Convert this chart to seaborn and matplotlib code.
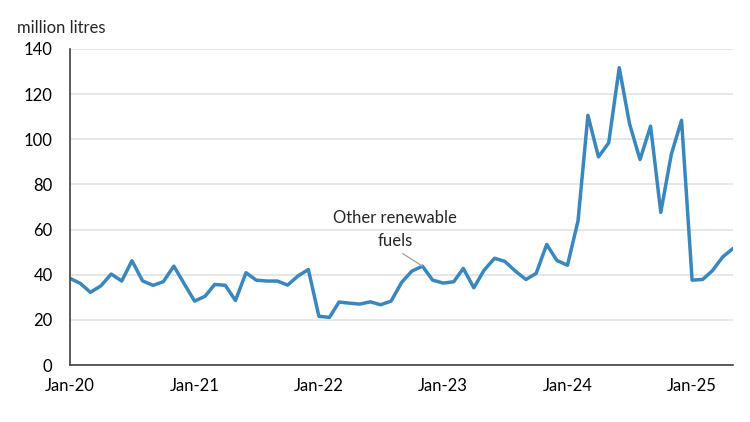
import pandas as pd
import numpy as np
import matplotlib
matplotlib.use('Agg')
import matplotlib.pyplot as plt
import matplotlib.dates as mdates
import seaborn as sns

# données mensuelles (millions de litres), jan-2020 -> mai-2025
valeurs = [38.4, 36.1, 32.2, 35.1, 40.3, 37.2, 46.2, 37.3, 35.3, 36.9, 43.8, 36.1,
           28.3, 30.5, 35.7, 35.3, 28.6, 40.9, 37.6, 37.2, 37.2, 35.4, 39.5, 42.3,
           21.6, 21.1, 27.9, 27.4, 27.0, 28.0, 26.7, 28.3, 36.6, 41.6, 43.8, 37.6,
           36.3, 36.9, 42.8, 34.2, 42.0, 47.3, 45.9, 41.6, 37.9, 40.6, 53.4, 46.3,
           44.2, 63.9, 110.6, 92.2, 98.4, 131.7, 107.0, 91.0, 105.8, 67.6, 93.4, 108.4,
           37.6, 37.9, 41.7, 47.9, 51.6]
debut = '2020-01-01'
ticks_y = [0, 20, 40, 60, 80, 100, 120, 140]
ticks_x = ['2020-01-01', '2021-01-01', '2022-01-01', '2023-01-01', '2024-01-01', '2025-01-01']
etiquette = "Other renewable\nfuels"
unite = "million litres"

mois = pd.date_range(debut, periods=len(valeurs), freq='MS')
df = pd.DataFrame({'mois': mois, 'valeur': valeurs})

sns.set_style('white')
plt.rcParams['font.family'] = ['Lato', 'DejaVu Sans']

fig = plt.figure(figsize=(7.5, 4.22), dpi=100)
ax = fig.add_axes([0.0933, 0.135, 0.884, 0.749])

sns.lineplot(data=df, x='mois', y='valeur', ax=ax, color='#3a87be', linewidth=2.5)

ax.set_ylim(0, 140)
ax.set_yticks(ticks_y)
ax.set_xlim(mois[0], mois[-1])
ax.set_xticks(pd.to_datetime(ticks_x))
ax.xaxis.set_major_formatter(mdates.DateFormatter('%b-%y'))
ax.grid(axis='y', color='#e3e3e3', linewidth=1.2)
ax.set_axisbelow(True)
ax.tick_params(axis='both', length=0, labelsize=12, colors='black')
ax.tick_params(axis='x', pad=9)
ax.tick_params(axis='y', pad=12.5)
ax.set_xlabel('')
ax.set_ylabel('')

for s in ['top', 'right']:
    ax.spines[s].set_visible(False)
for s in ['left', 'bottom']:
    ax.spines[s].set_color('#404040')
    ax.spines[s].set_linewidth(1.2)

fig.text(17 / 750, 1 - 28 / 422, unite, fontsize=12, ha='left', va='center')

# étiquette de série avec trait de rappel (part du bas du texte)
ax.annotate(etiquette, xy=(mois[34], valeurs[34]), xytext=(mois[31] + pd.Timedelta(days=12), 60),
            ha='center', va='center', fontsize=12, linespacing=1.5,
            arrowprops=dict(arrowstyle='-', color='#a0a0a0', lw=0.9, relpos=(0.5, 0),
                            shrinkA=2, shrinkB=0))

plt.savefig('out.png', dpi=100)
